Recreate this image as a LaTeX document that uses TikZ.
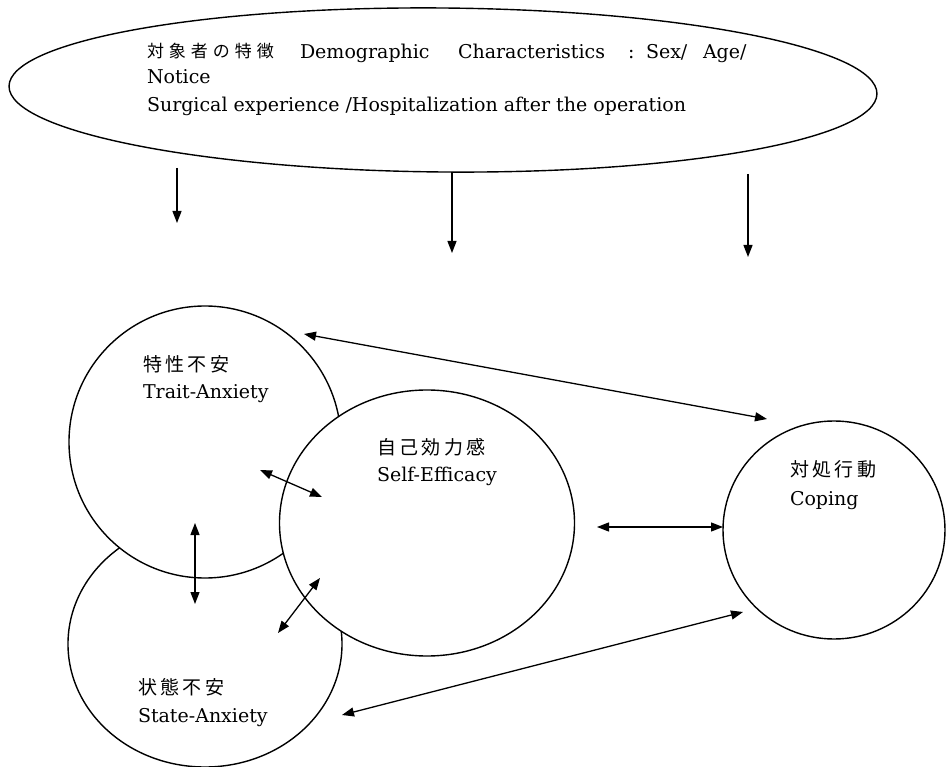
\documentclass[tikz,border=0pt]{standalone}
\usepackage{fontspec}
\newfontfamily\jp{Noto Sans CJK JP}
\newfontfamily\lat{DejaVu Serif}
\usetikzlibrary{shapes.geometric,arrows.meta}
\newcommand{\jsp}{\hspace{3.5pt}}
\newcommand{\jse}{\hspace{5pt}}
\begin{document}
\begin{tikzpicture}[x=1pt,y=-1pt,
  shapeline/.style={draw=black,line width=1.4pt,fill=white,inner sep=0pt,outer sep=0pt},
  lbl/.style={anchor=base west,inner sep=0pt,outer sep=0pt,font=\lat\fontsize{19}{23}\selectfont},
  jlbl/.style={anchor=base west,inner sep=0pt,outer sep=0pt,font=\jp\fontsize{19}{22}\selectfont},
  jlble/.style={anchor=base west,inner sep=0pt,outer sep=0pt,font=\jp\fontsize{17}{20}\selectfont},
  conn/.style={line width=1.3pt,-{Triangle[length=12pt,width=9pt]}},
  dconn/.style={line width=1.3pt,{Triangle[length=12pt,width=9pt]}-{Triangle[length=12pt,width=9pt]}}]
\useasboundingbox (0,0) rectangle (946,767);
% top ellipse
\node[shapeline,ellipse,minimum width=868pt,minimum height=164pt,rotate=-0.5] (ell) at (443,90) {};
% circles (drawn bottom to top)
\node[shapeline,ellipse,minimum width=274pt,minimum height=246pt] (sa) at (205,644) {};
\node[shapeline,circle,minimum size=272pt] (ta) at (205,442) {};
\node[shapeline,ellipse,minimum width=295pt,minimum height=266pt] (se) at (427,523) {};
\node[shapeline,ellipse,minimum width=222pt,minimum height=218pt] (cp) at (834,530) {};
% ellipse text
\node[jlble] (t1j) at (147,58) {対\jse 象\jse 者\jse の\jse 特\jse 徴};
\node[lbl] (t1a) at (300,59) {Demographic};
\node[lbl] (t1b) at (458,59) {Characteristics};
\node[lbl] (t1c) at (628,59) {:};
\node[lbl] (t1d) at (646,59) {Sex/};
\node[lbl] (t1e) at (703,59) {Age/};
\node[lbl] (t2) at (147,84) {Notice};
\node[lbl] (t3) at (147,112) {Surgical experience /Hospitalization after the operation};
% circle labels
\node[jlbl] (taj) at (143,372) {特\jsp 性\jsp 不\jsp 安};
\node[lbl] (tae) at (143,399) {Trait-Anxiety};
\node[jlbl] (sej) at (377,454) {自\jsp 己\jsp 効\jsp 力\jsp 感};
\node[lbl] (see) at (377,482) {Self-Efficacy};
\node[jlbl] (saj) at (138,694) {状\jsp 態\jsp 不\jsp 安};
\node[lbl] (sae) at (138,722) {State-Anxiety};
\node[jlbl] (cpj) at (790,477) {対\jsp 処\jsp 行\jsp 動};
\node[lbl] (cpe) at (790,505) {Coping};
% connector end points
\coordinate (a1s) at (177,168); \coordinate (a1e) at (177,223);
\coordinate (a2s) at (452,172); \coordinate (a2e) at (452,253);
\coordinate (a3s) at (748,174); \coordinate (a3e) at (748,257);
\coordinate (tc1) at (304,334); \coordinate (tc2) at (767,419);
\coordinate (ts1) at (260,470); \coordinate (ts2) at (322,497);
\coordinate (tt1) at (195,523); \coordinate (tt2) at (195,604);
\coordinate (ss1) at (320,578); \coordinate (ss2) at (278,633);
\coordinate (sc1) at (597,527); \coordinate (sc2) at (723,527);
\coordinate (stc1) at (342,715); \coordinate (stc2) at (743,612);
% connectors
\draw[conn] (a1s) -- (a1e);
\draw[conn] (a2s) -- (a2e);
\draw[conn] (a3s) -- (a3e);
\draw[dconn] (tc1) -- (tc2);
\draw[dconn] (ts1) -- (ts2);
\draw[dconn] (tt1) -- (tt2);
\draw[dconn] (ss1) -- (ss2);
\draw[dconn] (sc1) -- (sc2);
\draw[dconn] (stc1) -- (stc2);
\end{tikzpicture}
\end{document}
